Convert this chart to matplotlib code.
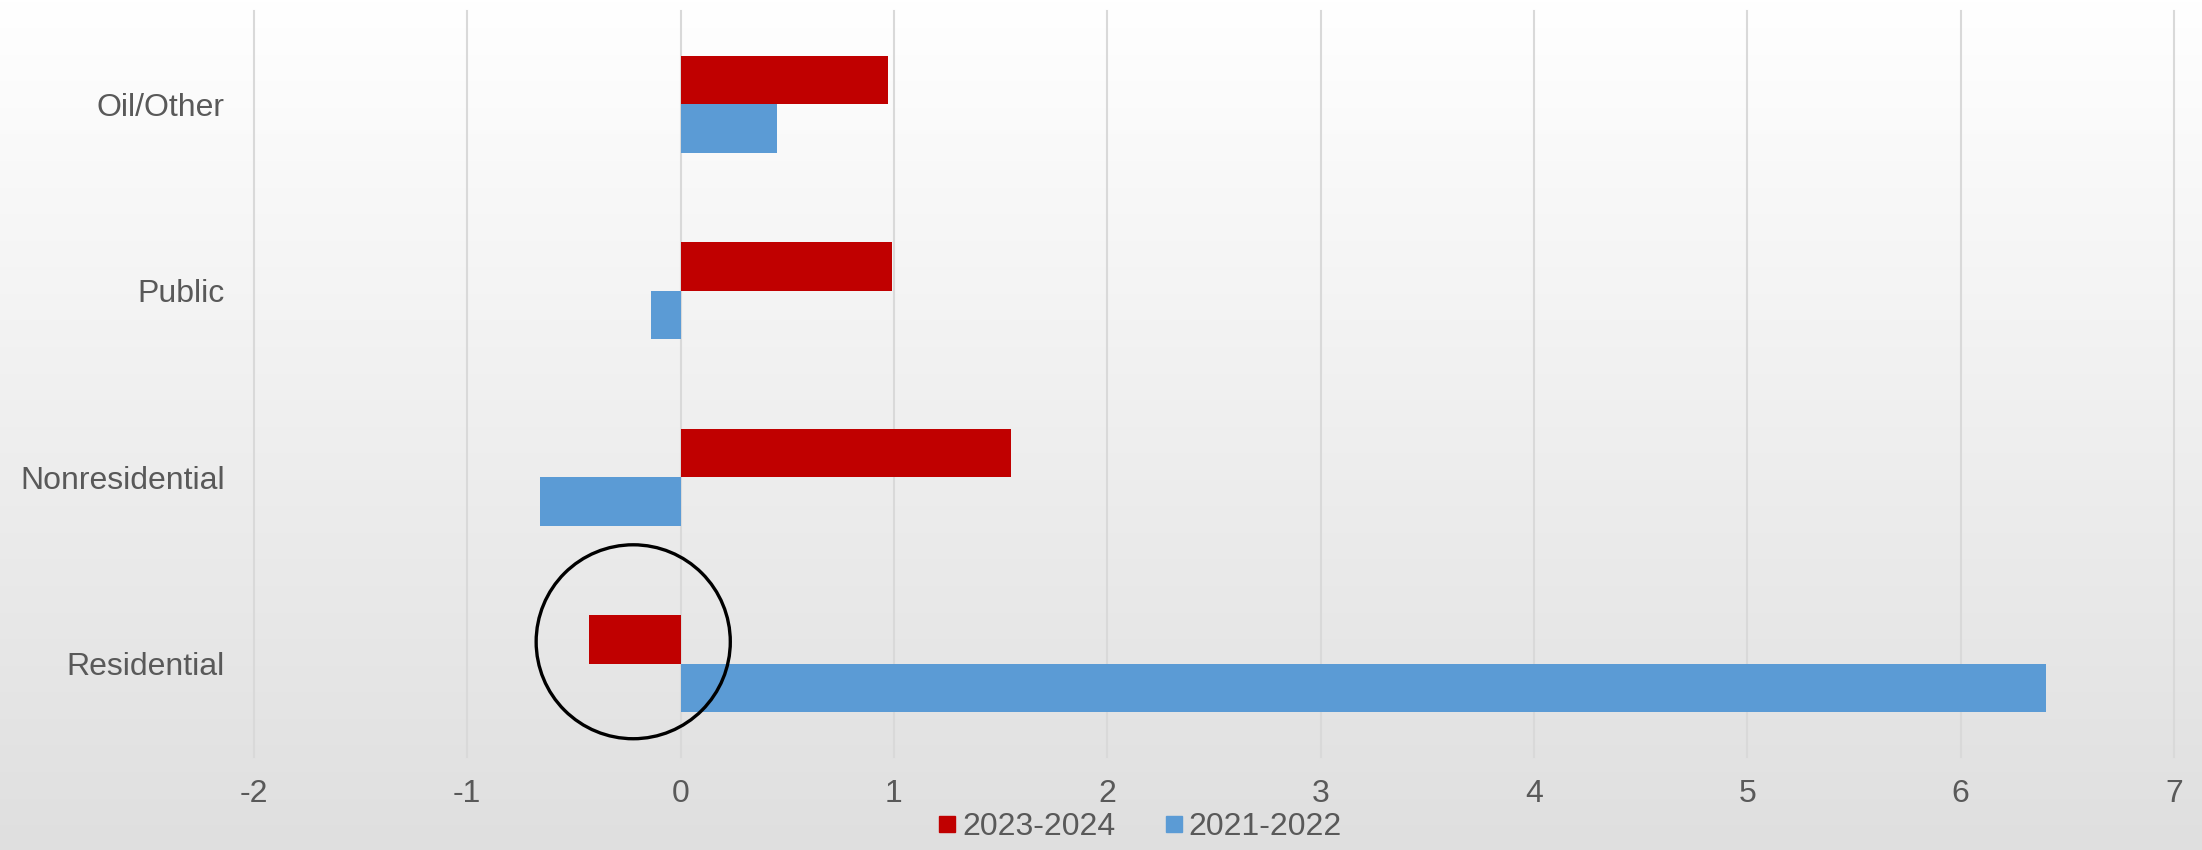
import numpy as np
import matplotlib
matplotlib.use('Agg')
import matplotlib.pyplot as plt
from matplotlib.lines import Line2D
from matplotlib.patches import Ellipse

categories = ['Residential', 'Nonresidential', 'Public', 'Oil/Other']
change_2023_2024 = [-0.43, 1.55, 0.99, 0.97]
change_2021_2022 = [6.40, -0.66, -0.14, 0.45]
series_names = ['2023-2024', '2021-2022']
xticks = [-2, -1, 0, 1, 2, 3, 4, 5, 6, 7]

red = '#C00000'
blue = '#5B9BD5'
grey_text = '#595959'

plt.rcParams['font.family'] = ['Liberation Sans', 'DejaVu Sans']

fig = plt.figure(figsize=(22.02, 8.5), dpi=100)

# soft vertical gradient behind everything
bg = fig.add_axes([0, 0, 1, 1], zorder=-10)
grad = np.linspace(1.0, 0.875, 256).reshape(-1, 1)
bg.imshow(np.dstack([grad, grad, grad]), aspect='auto', extent=[0, 1, 0, 1],
          interpolation='bilinear')
bg.axis('off')

ax = fig.add_axes([0.1153, 0.1094, 0.8720, 0.8776])
ax.patch.set_alpha(0)

y = np.arange(len(categories))
h = 0.261
ax.barh(y + h / 2, change_2023_2024, height=h, color=red, zorder=3)
ax.barh(y - h / 2, change_2021_2022, height=h, color=blue, zorder=3)

ax.set_xlim(-2, 7)
ax.set_ylim(-0.5, len(categories) - 0.5)
ax.set_xticks(xticks)
ax.set_xticklabels([str(t) for t in xticks])
ax.set_yticks(y)
ax.set_yticklabels(categories)
ax.tick_params(axis='both', length=0, labelsize=23, colors=grey_text)
ax.tick_params(axis='x', pad=16)
ax.tick_params(axis='y', pad=21)
for s in ax.spines.values():
    s.set_visible(False)
for t in xticks:
    ax.axvline(t, color='#d9d9d9', lw=1.5, zorder=1, clip_on=False)

# highlight ring around the residential drop
ax.add_patch(Ellipse((-0.222, 0.118), 0.91, 1.04, fill=False, ec='black',
                     lw=2.4, zorder=4))

handles = [Line2D([], [], marker='s', ls='', color=red, markersize=11.5),
           Line2D([], [], marker='s', ls='', color=blue, markersize=11.5)]
leg = fig.legend(handles, series_names, loc='center', bbox_to_anchor=(0.5177, 0.027),
                 ncol=2, frameon=False, fontsize=23, handletextpad=0.2,
                 columnspacing=1.55, handlelength=0.55)
for txt in leg.get_texts():
    txt.set_color(grey_text)

fig.savefig('out.png', dpi=100)
